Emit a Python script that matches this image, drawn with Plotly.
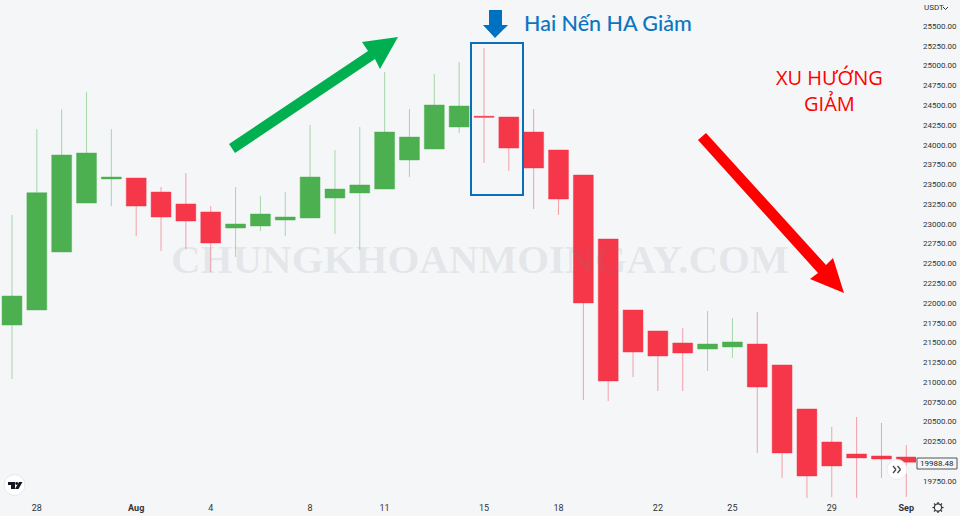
import plotly.graph_objects as go

dates = [
    "2022-07-27","2022-07-28","2022-07-29","2022-07-30","2022-07-31","2022-08-01","2022-08-02","2022-08-03",
    "2022-08-04","2022-08-05","2022-08-06","2022-08-07","2022-08-08","2022-08-09","2022-08-10","2022-08-11",
    "2022-08-12","2022-08-13","2022-08-14","2022-08-15","2022-08-16","2022-08-17","2022-08-18","2022-08-19",
    "2022-08-20","2022-08-21","2022-08-22","2022-08-23","2022-08-24","2022-08-25","2022-08-26","2022-08-27",
    "2022-08-28","2022-08-29","2022-08-30","2022-08-31","2022-09-01"]
opens = [21721,21911,22644,23263,23567,23579,23402,23251,23150,22947,22973,23048,23074,23326,23390,23440,
         23807,23946,24224,24360,24350,24160,23933,23617,22808,21911,21646,21494,21418,21444,21481,21216,
         20660,20243,20091,20066,20053]
closes = [22088,23393,23870,23895,23592,23225,23086,23036,22758,22998,23124,23086,23592,23440,23491,24160,
          24097,24502,24489,24348,23958,23706,23314,22000,21014,21380,21330,21368,21481,21507,20938,20104,
          19813,19940,20041,20028,19988]
highs = [23112,24198,24445,24666,24198,23579,23465,23642,23225,23465,23352,23402,24249,23933,24224,24919,
         24451,24893,25045,25222,24350,24451,23933,23617,22808,21911,21646,21684,21898,21810,21886,21216,
         20660,20433,20559,20483,20205]
lows = [21039,21911,22644,23263,23225,22846,22657,22682,22391,22581,22909,22846,23074,22872,22669,23440,
        23592,23946,24148,23769,23668,23187,23112,20774,20761,21064,20887,20887,21140,21305,20104,19788,
        19523,19548,19535,19788,19548]
xtick_dates = ["2022-07-28","2022-08-01","2022-08-04","2022-08-08","2022-08-11","2022-08-15","2022-08-18",
               "2022-08-22","2022-08-25","2022-08-29","2022-09-01"]
xtick_text = ["28","<b>Aug</b>","4","8","11","15","18","22","25","29","<b>Sep</b>"]
ytick_vals = [19750,20250,20500,20750,21000,21250,21500,21750,22000,22250,22500,22750,23000,23250,
              23500,23750,24000,24250,24500,24750,25000,25250,25500]
ytick_text = ["19750.00","20250.00","20500.00","20750.00","21000.00","21250.00","21500.00",
              "21750.00","22000.00","22250.00","22500.00","22750.00","23000.00","23250.00","23500.00",
              "23750.00","24000.00","24250.00","24500.00","24750.00","25000.00","25250.00","25500.00"]
last_price = "19988.48"
BG = "#f4f6f8"
W, H, PW, PH = 960, 516, 916, 498


def px(x):
    return x / PW


def py(y):
    return 1 - y / PH


def poly(points, fill, line=None, width=0):
    path = "M" + " L".join(f"{px(x):.5f},{py(y):.5f}" for x, y in points) + " Z"
    return dict(type="path", xref="paper", yref="paper", path=path, fillcolor=fill,
                line=dict(color=line or fill, width=width), layer="above")


def circle(cx, cy, r, fill, line, width=1):
    return dict(type="circle", xref="paper", yref="paper", x0=px(cx - r), x1=px(cx + r),
                y0=py(cy + r), y1=py(cy - r), fillcolor=fill, line=dict(color=line, width=width), layer="above")


def seg(x0, y0, x1, y1, color, width=1.3):
    return dict(type="line", xref="paper", yref="paper", x0=px(x0), y0=py(y0), x1=px(x1), y1=py(y1),
                line=dict(color=color, width=width), layer="above")


def label(x, y, text, size, color, family, anchor="center", weight=400):
    return dict(xref="paper", yref="paper", x=px(x), y=py(y), text=text, showarrow=False, xanchor=anchor,
                yanchor="middle", font=dict(size=size, color=color, family=family, weight=weight))


fig = go.Figure(go.Candlestick(
    x=dates, open=opens, high=highs, low=lows, close=closes, whiskerwidth=0,
    increasing=dict(fillcolor="#4caf50", line=dict(color="rgba(76,175,80,0.45)", width=1)),
    decreasing=dict(fillcolor="#f53749", line=dict(color="rgba(245,55,73,0.45)", width=1)),
))

shapes = [
    poly([(229, 144), (368, 51), (362, 42), (398, 37), (380, 69), (375, 59), (235, 153)], "#00b050"),
    poly([(706, 133), (826, 265), (833, 258), (844, 293), (810, 279), (818, 273), (698, 140)], "#ff0000"),
    poly([(489, 10), (502, 10), (502, 25), (508, 25), (495, 38), (483, 25), (489, 25)], "#0070c0"),
    dict(type="rect", xref="paper", yref="paper", x0=px(471), x1=px(523), y0=py(195), y1=py(43),
         line=dict(color="#0b6fb8", width=2), layer="above"),
    circle(14.5, 485, 10.5, "#ffffff", "#e6e8ec"),
    poly([(8, 482), (15, 482), (15, 489), (11, 489), (11, 485), (8, 485)], "#131722"),
    poly([(19, 482), (22.5, 482), (18.5, 489), (15, 489)], "#131722"),
    circle(16.7, 483.5, 1.4, "#131722", "#131722", 0),
    circle(897, 469.5, 10, "#ffffff", "#e9ebef"),
    seg(893, 466, 896, 469.5, "#444444"), seg(896, 469.5, 893, 473, "#444444"),
    seg(897.5, 466, 900.5, 469.5, "#444444"), seg(900.5, 469.5, 897.5, 473, "#444444"),
    dict(type="rect", xref="paper", yref="paper", x0=px(917), x1=px(957), y0=py(469), y1=py(458),
         fillcolor=BG, line=dict(color="#555555", width=1), layer="above"),
    seg(943, 7, 945.5, 9.5, "#333333", 1), seg(945.5, 9.5, 948, 7, "#333333", 1),
    circle(938, 507.5, 3.6, BG, "#333333", 1.1),
    seg(938, 502, 938, 504, "#333333"), seg(938, 511, 938, 513, "#333333"),
    seg(932.5, 507.5, 934.5, 507.5, "#333333"), seg(941.5, 507.5, 943.5, 507.5, "#333333"),
    seg(934, 503.5, 935.4, 504.9, "#333333"), seg(940.6, 510.1, 942, 511.5, "#333333"),
    seg(942, 503.5, 940.6, 504.9, "#333333"), seg(935.4, 510.1, 934, 511.5, "#333333"),
]

annotations = [
    label(479.5, 259, "CHUNGKHOANMOINGAY.COM", 41, "rgba(120,125,130,0.13)", "Liberation Serif, serif", weight=700),
    label(608, 23, "Hai Nến HA Giảm", 21.5, "#0b75c0", "Lato, sans-serif", weight=500),
    label(829.5, 78, "XU HƯỚNG", 20, "#ff0000", "Open Sans, sans-serif", weight=500),
    label(829.5, 103, "GIẢM", 20, "#ff0000", "Open Sans, sans-serif", weight=500),
    label(922, 8, "USDT", 8, "#333333", "Roboto, sans-serif", anchor="left"),
    label(937, 463.5, last_price, 8, "#222222", "Roboto, sans-serif"),
]

fig.update_layout(
    width=W, height=H, margin=dict(l=0, r=W - PW, t=0, b=H - PH),
    paper_bgcolor=BG, plot_bgcolor=BG, showlegend=False, boxgap=0.2, boxgroupgap=0,
    shapes=shapes, annotations=annotations,
    xaxis=dict(type="date", range=["2022-07-26 12:25", "2022-09-01 09:22"], rangeslider=dict(visible=False),
               tickmode="array", tickvals=xtick_dates, ticktext=xtick_text, showgrid=False, zeroline=False,
               showline=False, ticks="", tickangle=0, ticklabelstandoff=3,
               tickfont=dict(size=9, color="#333333", family="Roboto, sans-serif")),
    yaxis=dict(side="right", range=[19535, 25829], tickmode="array", tickvals=ytick_vals, ticktext=ytick_text,
               showgrid=False, zeroline=False, showline=False, ticks="", ticklabelstandoff=6,
               tickfont=dict(size=8, color="#333333", family="Roboto, sans-serif")),
)

fig.write_html("out.html", config={"displayModeBar": False},
               post_script=f"document.body.style.margin='0';document.body.style.background='{BG}';")
